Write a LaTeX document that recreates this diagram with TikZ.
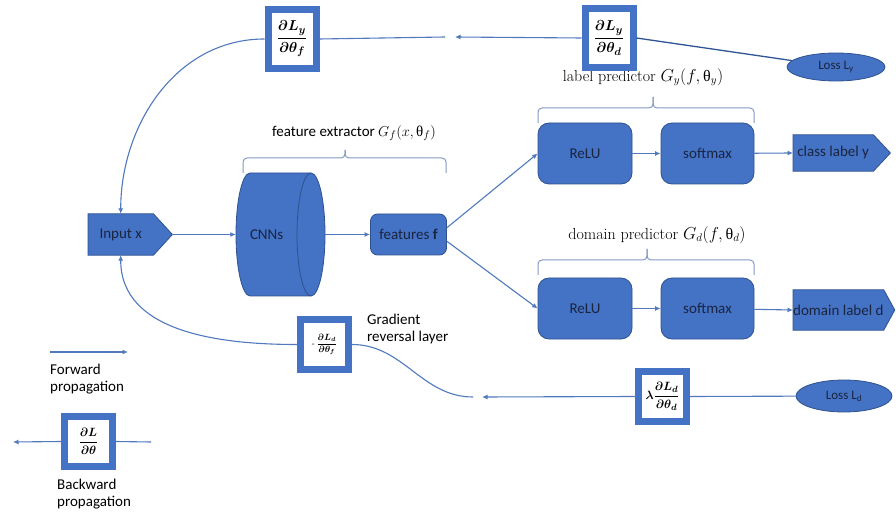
\documentclass[tikz,border=0pt]{standalone}
\usepackage{amsmath}
\usepackage{fontspec}
\setsansfont{Carlito}
\newfontfamily\grk{Liberation Serif}
\usetikzlibrary{arrows.meta,calc,backgrounds,shapes.geometric}
\definecolor{shapeblue}{HTML}{4472C4}
\definecolor{rimblue}{HTML}{2F528F}
\definecolor{wireblue}{HTML}{5079BE}
\definecolor{darkwire}{HTML}{2F5597}
\definecolor{bracegray}{HTML}{8499C4}
\definecolor{ink}{HTML}{1A2540}
% upright theta for the parameter captions
\newcommand\upth{\mbox{\grk θ}}
% arrow-tag outline behind a named node; #2 is the depth of the point
\newcommand\pentagon[2]{%
  \begin{scope}[on background layer]
    \filldraw[tagfill] (#1.north west) -- (#1.north east) -- ($(#1.east)+(#2,0)$)
      -- (#1.south east) -- (#1.south west) -- cycle;
  \end{scope}
  \coordinate (#1 tip) at ($(#1.east)+(#2,0)$);}
% grouping brace: x1, x2, x of the cusp, y of the bar, y of the feet, y of the cusp
\newcommand\groupbrace[6]{%
  \draw[bracestyle] (#1,-#5) -- (#1,-#4) -- (#3,-#4) -- (#3,-#6);
  \draw[bracestyle] (#2,-#5) -- (#2,-#4) -- (#3,-#4) -- (#3,-#6);}
% bold display fraction
\newcommand\gfrac[2]{$\displaystyle\boldsymbol{\frac{#1}{#2}}$}
\begin{document}
\begin{tikzpicture}[x=1pt,y=1pt,
  every node/.style={font=\sffamily\fontsize{15}{17}\selectfont, text=ink, inner sep=0pt},
  tagfill/.style={fill=shapeblue, draw=rimblue, line width=0.8pt},
  block/.style={fill=shapeblue, draw=rimblue, line width=0.8pt, rounded corners=11pt,
    minimum width=94pt, minimum height=61pt},
  gradbox/.style={fill=white, draw=shapeblue, line width=7pt, text=black,
    minimum width=48pt, minimum height=50pt, font=\fontsize{13}{16}\selectfont},
  tallbox/.style={gradbox, minimum height=59pt, font=\fontsize{15}{18}\selectfont},
  loss/.style={ellipse, fill=shapeblue, draw=rimblue, line width=0.8pt,
    minimum width=98pt, minimum height=28pt, font=\sffamily\fontsize{13}{15}\selectfont},
  flow/.style={draw=wireblue, line width=1.1pt, -{Latex[length=5.5pt,width=5pt]}},
  wire/.style={draw=wireblue, line width=1.1pt},
  bracestyle/.style={draw=bracegray, line width=1pt, rounded corners=4pt},
  caption/.style={font=\sffamily\fontsize{15}{17}\selectfont, text=black, align=left},
  serifcap/.style={font=\rmfamily\fontsize{16}{19}\selectfont, text=black},
]
\begin{scope}[on background layer]
  \fill[white] (0,0) rectangle (896,-518);
\end{scope}
\useasboundingbox (0,0) rectangle (896,-518);

% ---------- forward path ----------
\node[minimum width=65pt, minimum height=41pt, anchor=west] (input) at (88,-234.5) {Input x};
\pentagon{input}{19}

% CNN cylinder
\filldraw[tagfill] (250,-173) -- (311,-173)
  arc[start angle=90, end angle=-90, x radius=14, y radius=61.5]
  -- (250,-296)
  arc[start angle=270, end angle=90, x radius=14, y radius=61.5] -- cycle;
\draw[rimblue, line width=0.8pt] (311,-173)
  arc[start angle=90, end angle=270, x radius=14, y radius=61.5];
\node[minimum width=89pt, minimum height=123pt] (cnn) at (280.5,-234.5)
  {\makebox[89pt][l]{\hspace{14pt}CNNs}};

\node[block, rounded corners=7pt, minimum width=76pt, minimum height=41pt] (feat)
  at (408.5,-234.5) {features \textbf{f}};

\node[block] (relu1) at (585,-153.5) {ReLU};
\node[block, minimum width=93pt] (soft1) at (707.5,-153.5) {softmax};
\node[minimum width=80pt, minimum height=36pt, anchor=west] (classy) at (793,-153) {class label y};
\pentagon{classy}{17}

\node[block] (relu2) at (585,-308.5) {ReLU};
\node[block, minimum width=93pt] (soft2) at (707.5,-308.5) {softmax};
\node[minimum width=89pt, minimum height=40pt, anchor=west] (domd) at (793,-310) {domain label d};
\pentagon{domd}{11}

\draw[flow] (input tip) -- (cnn.west);
\draw[flow] (cnn.east) -- (feat.west);
\draw[flow] (feat.10) -- (relu1.west);
\draw[flow] (feat.-10) -- (relu2.west);
\draw[flow] (relu1) -- (soft1);
\draw[flow] (soft1) -- (classy.west);
\draw[flow] (relu2) -- (soft2);
\draw[flow] (soft2) -- (domd.west);

% ---------- group captions ----------
\groupbrace{243}{446}{345}{158}{173}{150}
\node[caption] (fcap) at (354,-133) {feature extractor $G_f(x,\upth_f)$};
\groupbrace{538}{754}{653}{108}{123}{97}
\node[serifcap] (ycap) at (643,-77) {label predictor $G_y(f,\upth_y)$};
\groupbrace{538}{754}{647}{260}{275}{249}
\node[serifcap] (dcap) at (657,-235) {domain predictor $G_d(f,\upth_d)$};

% ---------- backward path, label branch ----------
\node[tallbox] (dyf) at (292,-39) {\gfrac{\partial L_y}{\partial\theta_f}};
\node[tallbox] (dyd) at (609,-38) {\gfrac{\partial L_y}{\partial\theta_d}};
\node[loss] (lossy) at (836,-67) {Loss L\textsubscript{y}};
\coordinate (ytip) at (455,-37);
\coordinate (ytail) at (445,-37);
\draw[darkwire, line width=1.3pt] (dyd.east) -- (lossy);
\draw[flow] (dyd.west) -- (ytip);
\draw[wire] (ytail) -- (dyf.east);
\draw[flow] (dyf.west) to[out=180, in=90] (input.north);

% ---------- backward path, domain branch ----------
\node[gradbox, font=\fontsize{9}{10}\selectfont] (grl) at (324.5,-344.5)
  {-\,\gfrac{\partial L_d}{\partial\theta_f}};
\node[caption, anchor=north west] (grlcap) at (367,-314) {Gradient\\reversal layer};
\node[gradbox] (lam) at (662.5,-396.5) {$\boldsymbol{\lambda}$\gfrac{\partial L_d}{\partial\theta_d}};
\node[loss, minimum height=32pt, minimum width=96pt] (lossd) at (844,-396) {Loss L\textsubscript{d}};
\coordinate (dtip) at (482,-397);
\coordinate (dtail) at (473,-397);
\draw[wire] (lam.east) -- (lossd);
\draw[flow] (lam.west) -- (dtip);
\draw[wire] (dtail) to[out=180, in=0] (grl.east);
\draw[flow] (grl.west) to[out=180, in=-90] (input.south);

% ---------- legend ----------
\coordinate (fwdA) at (50,-352);
\coordinate (fwdB) at (128,-352);
\draw[flow] (fwdA) -- (fwdB);
\node[caption, anchor=north west] (fwdcap) at (50,-364) {Forward\\propagation};
\node[gradbox] (lg) at (88.5,-441.5) {\gfrac{\partial L}{\partial\theta}};
\coordinate (bkA) at (13,-442);
\coordinate (bkB) at (151,-442);
\draw[flow] (lg.west) -- (bkA);
\draw[wire] (bkB) -- (lg.east);
\node[caption, anchor=north west] (bkcap) at (57,-479) {Backward\\propagation};
\end{tikzpicture}
\end{document}
